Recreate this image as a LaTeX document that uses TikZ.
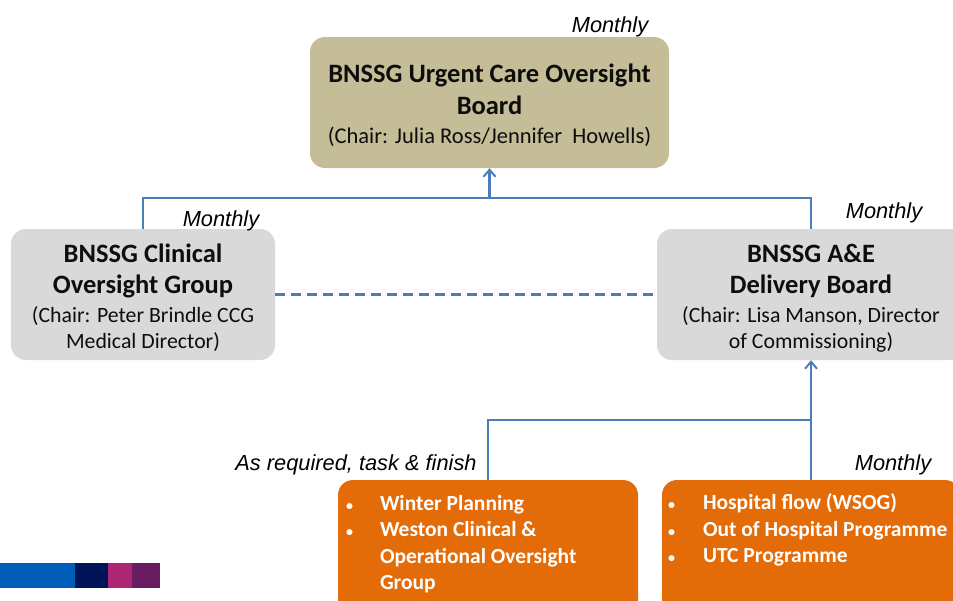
\documentclass[tikz,border=0pt]{standalone}
\usepackage{fontspec}
\setmainfont{Carlito}
\newfontfamily\labfont{Liberation Sans}
\usetikzlibrary{arrows.meta}
\definecolor{boardtan}{HTML}{C4BD97}
\definecolor{groupgray}{HTML}{D9D9D9}
\definecolor{workorange}{HTML}{E36C09}
\definecolor{linkblue}{HTML}{4A7EBB}
\definecolor{barblue}{HTML}{005EB8}
\definecolor{barnavy}{HTML}{00145A}
\definecolor{barmagenta}{HTML}{AE2573}
\definecolor{barpurple}{HTML}{6A1C63}
\begin{document}
\begin{tikzpicture}[x=1pt,y=-1pt,
  box/.style={rounded corners=15pt, inner sep=0pt, align=center, text=black!95},
  board/.style={box, fill=boardtan, minimum width=359pt, minimum height=131pt,
    font=\fontsize{26.5}{32}\selectfont},
  group/.style={box, fill=groupgray, minimum width=264pt, minimum height=131pt,
    font=\fontsize{26.5}{31}\selectfont},
  work/.style={box, fill=workorange, minimum height=150pt},
  worktext/.style={anchor=north west, inner sep=0pt, align=left, text=white,
    font=\fontsize{21.5}{26.5}\selectfont\bfseries},
  lab/.style={inner sep=0pt, font=\labfont\itshape\fontsize{21.8}{25}\selectfont},
  link/.style={draw=linkblue, line width=2.5pt},
  up/.style={link, -{Straight Barb[length=7pt,width=12pt,line width=2pt]}},
]
\useasboundingbox (0,0) rectangle (953,600);
\clip (0,0) rectangle (953,600);

% boxes
\node[board] (ucob) at (489.5,102.5) {};
\node[group] (clin) at (143,294.5) {};
\node[group, minimum width=308pt] (aed) at (811,294.5) {};
\node[work, minimum width=300pt] (winter) at (488,555) {};
\node[work, minimum width=298pt] (flow) at (811,555) {};

% box titles
\node[board, fill=none] (ucobtext) at ([yshift=-3pt]ucob.center)
  {\bfseries BNSSG Urgent Care Oversight\\\bfseries Board\\[-3pt]
   {\fontsize{22.5}{26}\selectfont (Chair: Julia Ross/Jennifer\ \ Howells)}};
\node[group, fill=none] (clintext) at ([yshift=-3.5pt]clin.center)
  {\bfseries BNSSG Clinical\\\bfseries Oversight Group\\[-2pt]
   {\fontsize{21.8}{26}\selectfont (Chair: Peter Brindle CCG}\\[-5pt]
   {\fontsize{21.8}{26}\selectfont Medical Director)}};
\node[group, fill=none, minimum width=308pt] (aedtext) at ([yshift=-3.5pt]aed.center)
  {\bfseries BNSSG A\&E\\\bfseries Delivery Board\\[-2pt]
   {\fontsize{21.8}{26}\selectfont (Chair: Lisa Manson, Director}\\[-5pt]
   {\fontsize{21.8}{26}\selectfont of Commissioning)}};

% bullet lists
\node[worktext] (wintertext) at ([shift={(8,15)}]winter.north west)
  {\makebox[34pt][l]{\fontsize{14}{14}\selectfont\textbullet}Winter Planning\\
   \makebox[34pt][l]{\fontsize{14}{14}\selectfont\textbullet}Weston Clinical \&\\
   \hspace*{34pt}Operational Oversight\\
   \hspace*{34pt}Group};
\node[worktext] (flowtext) at ([shift={(6,14)}]flow.north west)
  {\makebox[35pt][l]{\fontsize{14}{14}\selectfont\textbullet}Hospital flow (WSOG)\\
   \makebox[35pt][l]{\fontsize{14}{14}\selectfont\textbullet}Out of Hospital Programme\\
   \makebox[35pt][l]{\fontsize{14}{14}\selectfont\textbullet}UTC Programme};

% meeting frequency labels
\node[lab] (m1) at (610,26.5) {Monthly};
\node[lab] (m2) at (221,220.5) {Monthly};
\node[lab] (m3) at (884,212.5) {Monthly};
\node[lab] (m4) at (356,464.5) {As required, task \& finish};
\node[lab] (m5) at (893,464.5) {Monthly};

% reporting lines
\coordinate (topjoin) at (ucob.south |- 0,198);
\coordinate (lowjoin) at (aed.south |- 0,420);
\draw[link] (clin.north) |- (topjoin) -| (aed.north);
\draw[up] (topjoin) -- (ucob.south);
\draw[link] (winter.north) |- (lowjoin);
\draw[up] (flow.north) -- (aed.south);
\draw[link, dash pattern=on 10pt off 6pt] (clin.east) -- (aed.west);

% colour bar
\fill[barblue] (0,563) rectangle (75,588);
\fill[barnavy] (75,563) rectangle (108,588);
\fill[barmagenta] (108,563) rectangle (132,588);
\fill[barpurple] (132,563) rectangle (160,588);
\end{tikzpicture}
\end{document}
